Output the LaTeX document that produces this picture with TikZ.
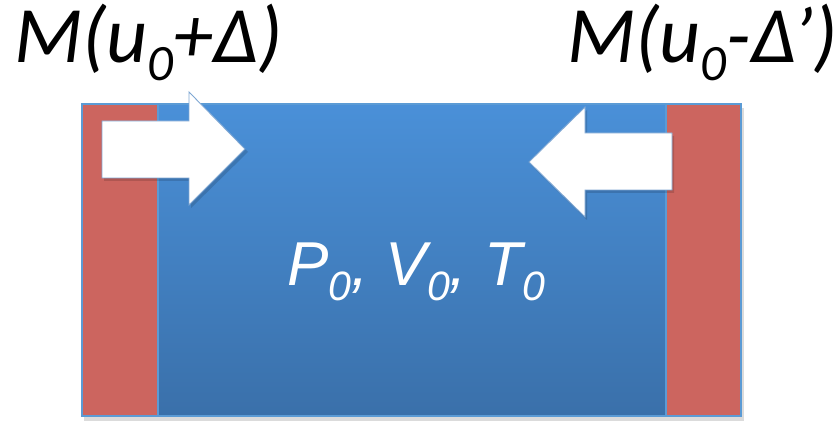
\documentclass[tikz,border=0pt]{standalone}
\usepackage{fontspec}
\newfontfamily\calib{Carlito}
\newfontfamily\arialf{Liberation Sans}
\definecolor{bluetop}{HTML}{4A90D8}
\definecolor{bluebot}{HTML}{3A70AA}
\definecolor{edgeblue}{HTML}{5B9BD5}
\definecolor{redbar}{HTML}{CC655F}
\definecolor{arrowedge}{HTML}{7FA7D3}
\tikzset{
  redbox/.style={fill=redbar, draw=edgeblue, line width=1.2pt},
  wharrow/.style={fill=white, draw=arrowedge, line width=0.9pt, line join=miter},
  shadowish/.style={fill=black, opacity=0.14},
  toplabel/.style={inner sep=0pt, anchor=base west, text=black, font=\calib\itshape\fontsize{80}{82}\selectfont},
  midlabel/.style={inner sep=0pt, anchor=base west, text=white, font=\arialf\itshape\fontsize{62}{64}\selectfont}
}
\newcommand{\subA}[1]{\raisebox{-18pt}{\fontsize{51}{51}\selectfont #1}}
\newcommand{\subB}[1]{\raisebox{-15pt}{\fontsize{41}{41}\selectfont #1}}
\begin{document}
\begin{tikzpicture}[x=1pt,y=-1pt]
\useasboundingbox (0,0) rectangle (838,422);
% shadow
\fill[shadowish] (84,108) rectangle (744,421);
% container
\shade[top color=bluetop, bottom color=bluebot] (82,104) rectangle (741,416);
\draw[edgeblue, line width=1.2pt] (82,104) rectangle (741,416);
% walls
\draw[redbox] (82,104) rectangle (158,416);
\draw[redbox] (666,104) rectangle (741,416);
% arrow shadows
\fill[shadowish] (104,124) -- (191,124) -- (191,95) -- (248,152) -- (191,208) -- (191,181) -- (104,181) -- cycle;
\fill[shadowish] (674,136) -- (587,136) -- (587,110) -- (531,165) -- (587,220) -- (587,193) -- (674,193) -- cycle;
% arrows
\draw[wharrow] (102,121) -- (189,121) -- (189,92) -- (245,149) -- (189,205) -- (189,178) -- (102,178) -- cycle;
\draw[wharrow] (672,133) -- (585,133) -- (585,107) -- (529,162) -- (585,217) -- (585,190) -- (672,190) -- cycle;
% labels
\node[toplabel] (lt) at (14,63) {M(u\subA{0}+Δ)};
\node[toplabel] (rt) at (567,63) {M(u\subA{0}-Δ’)};
\node[midlabel] (mid) at (287,285) {P\subB{0}, V\subB{0}, T\subB{0}};
\end{tikzpicture}
\end{document}
